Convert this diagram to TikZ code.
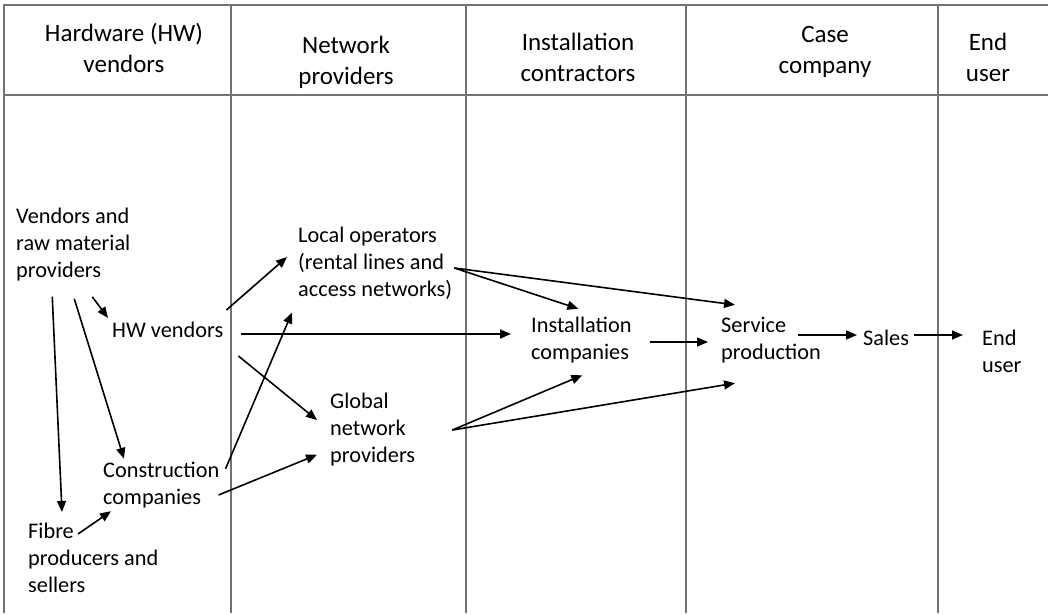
\documentclass[tikz,border=0pt]{standalone}
\usepackage{fontspec}
\setmainfont{Carlito}
\usetikzlibrary{arrows.meta}
\tikzset{
  lane/.style={draw=black!55,line width=1.1pt},
  head/.style={align=center,inner sep=0pt,font=\fontsize{25}{31}\selectfont},
  actor/.style={align=left,anchor=west,inner sep=0pt,font=\fontsize{22.3}{27}\selectfont},
  flow/.style={-{Triangle[length=11pt,width=9pt]},line width=1.6pt},
}
\begin{document}
\begin{tikzpicture}[x=1pt,y=-1pt]
\useasboundingbox (0,0) rectangle (1048,614);
% lanes
\draw[lane] (1048,5) -- (4,5) -- (4,613);
\draw[lane] (4,95) -- (1048,95);
\foreach \x in {231,466,686,938}
  \draw[lane] (\x,5) -- (\x,613);
% lane titles
\node[head] (hhw)   at (124,48) {Hardware (HW)\\vendors};
\node[head] (hnet)  at (346,62) {Network\\providers};
\node[head] (hinst) at (578,57) {Installation\\contractors};
\node[head] (hcase) at (825,52) {Case\\company};
\node[head] (hend)  at (988,57) {End\\user};
% actors
\node[actor] (vend)   at (16,245)  {Vendors and\\raw material\\providers};
\node[actor] (hw)     at (112,330) {HW vendors};
\node[actor] (local)  at (298,263) {Local operators\\(rental lines and\\access networks)};
\node[actor] (constr) at (103,485) {Construction\\companies};
\node[actor] (fibre)  at (28,558)  {Fibre\\producers and\\sellers};
\node[actor] (global) at (330,430) {Global\\network\\providers};
\node[actor] (inst)   at (531,340) {Installation\\companies};
\node[actor] (serv)   at (721,340) {Service\\production};
\node[actor] (sales)  at (863,338) {Sales};
\node[actor] (endu)   at (982,351) {End\\user};
% flows
\draw[flow] ([xshift=19pt,yshift=-15pt]vend.south) -- ([xshift=-4pt,yshift=4pt]hw.north west);
\draw[flow] ([xshift=-21pt,yshift=-15pt]vend.south) -- ([xshift=34pt,yshift=11pt]fibre.north west);
\draw[flow] ([xshift=1pt,yshift=-17pt]vend.south) -- ([xshift=21pt,yshift=3pt]constr.north west);
\draw[flow] ([xshift=3pt,yshift=12pt]hw.north east) -- ([xshift=-11pt,yshift=6pt]local.west);
\draw[flow] ([xshift=18pt,yshift=-4pt]hw.east) -- ([xshift=-20pt,yshift=6pt]inst.west);
\draw[flow] ([xshift=15pt,yshift=-18pt]hw.south east) -- ([xshift=-13pt,yshift=10pt]global.west);
\draw[flow] ([xshift=6pt,yshift=-7pt]constr.north east) -- ([xshift=-6pt,yshift=-13pt]local.south west);
\draw[flow] ([xshift=-1pt,yshift=-10pt]constr.east) -- ([xshift=-13pt,yshift=12pt]global.south west);
\draw[flow] ([xshift=50pt,yshift=-11pt]fibre.north west) -- ([xshift=8pt,yshift=-3pt]constr.south west);
\draw[flow] ([xshift=2pt,yshift=-5pt]local.east) -- ([xshift=-3pt,yshift=8pt]inst.north);
\draw[flow] ([xshift=2pt,yshift=-5pt]local.east) -- ([xshift=14pt,yshift=12pt]serv.north west);
\draw[flow] ([xshift=18pt,yshift=-2pt]inst.east) -- ([xshift=-13pt,yshift=-2pt]serv.west);
\draw[flow] ([xshift=-23pt,yshift=5pt]serv.east) -- ([xshift=-6pt,yshift=3pt]sales.west);
\draw[flow] ([xshift=5pt,yshift=3pt]sales.east) -- ([xshift=-19pt,yshift=16pt]endu.west);
\draw[flow] ([xshift=37pt]global.east) -- ([xshift=1pt,yshift=-12pt]inst.south);
\draw[flow] ([xshift=37pt]global.east) -- ([xshift=14pt,yshift=-20pt]serv.south west);
\end{tikzpicture}
\end{document}
